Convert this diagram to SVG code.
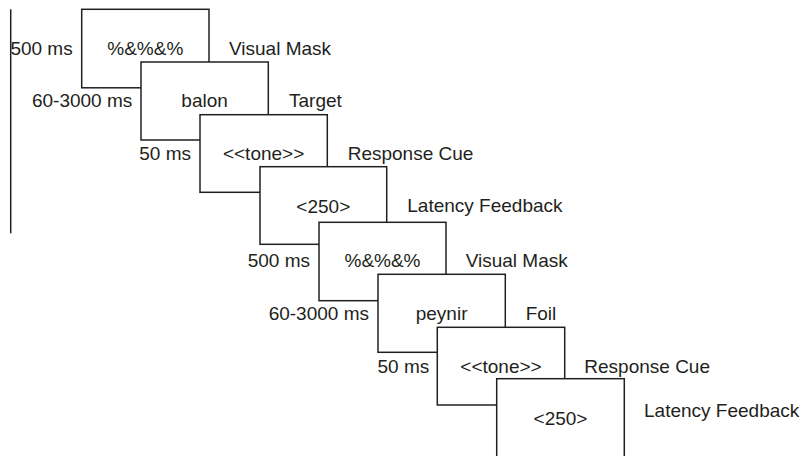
<svg xmlns="http://www.w3.org/2000/svg" width="806" height="456" viewBox="0 0 806 456">
<style>
.box{fill:#fff;stroke:#231f20;stroke-width:1.5}
text{font-family:"Liberation Sans",Arial,sans-serif;font-size:19px;fill:#231f20}
.c{text-anchor:middle}
.l{text-anchor:end}
</style>
<rect width="806" height="456" fill="#fff"/>
<g id="connectors">
<line x1="10.7" y1="9.3" x2="10.7" y2="233.3" stroke="#231f20" stroke-width="1.5"/>
</g>
<g id="n1"><rect class="box" x="81.7" y="9.3" width="127.3" height="78.5"/><text class="c" x="145.3" y="55">%&amp;%&amp;%</text><text class="l" x="72.7" y="55">500 ms</text><text x="229" y="55">Visual Mask</text></g>
<g id="n2"><rect class="box" x="141" y="62" width="127.3" height="78"/><text class="c" x="204.6" y="107.3">balon</text><text class="l" x="132.3" y="107.3">60-3000 ms</text><text x="289" y="107.3">Target</text></g>
<g id="n3"><rect class="box" x="200" y="114.7" width="127.3" height="77.6"/><text class="c" x="263.6" y="159.5">&lt;&lt;tone&gt;&gt;</text><text class="l" x="191" y="159.5">50 ms</text><text x="347.7" y="159.5">Response Cue</text></g>
<g id="n4"><rect class="box" x="260" y="166.7" width="126.7" height="77.6"/><text class="c" x="323.3" y="213.3">&lt;250&gt;</text><text x="407.3" y="212">Latency Feedback</text></g>
<g id="n5"><rect class="box" x="319" y="222.3" width="127" height="78.4"/><text class="c" x="382.5" y="267">%&amp;%&amp;%</text><text class="l" x="310" y="267">500 ms</text><text x="465.7" y="267">Visual Mask</text></g>
<g id="n6"><rect class="box" x="378" y="274.3" width="127.3" height="78"/><text class="c" x="441.6" y="320.3">peynir</text><text class="l" x="369" y="320.3">60-3000 ms</text><text x="525.7" y="320.3">Foil</text></g>
<g id="n7"><rect class="box" x="437.3" y="327.3" width="127.4" height="77.7"/><text class="c" x="501" y="372.7">&lt;&lt;tone&gt;&gt;</text><text class="l" x="429.3" y="372.7">50 ms</text><text x="584.3" y="372.7">Response Cue</text></g>
<g id="n8"><rect class="box" x="496.7" y="378.7" width="127.6" height="80"/><text class="c" x="560.5" y="425">&lt;250&gt;</text><text x="644" y="417">Latency Feedback</text></g>
</svg>
